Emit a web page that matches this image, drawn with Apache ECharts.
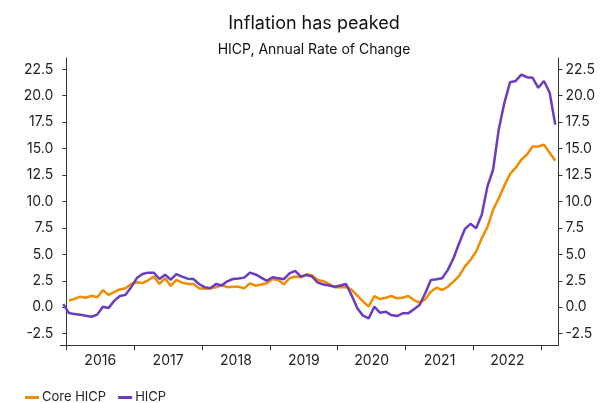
<!DOCTYPE html>
<html>
<head>
<meta charset="utf-8">
<script src="https://cdn.jsdelivr.net/npm/echarts@6/dist/echarts.min.js"></script>
<style>
  html, body { margin: 0; padding: 0; background: #ffffff; }
  #chart { width: 603px; height: 403px; }
</style>
</head>
<body>
<div id="chart"></div>
<script>
// Annual rate of change, %, one value per month
const hicpStart = '2015-12';
const hicp = [
  0.3,
  -0.55, -0.65, -0.72, -0.8, -0.9, -0.7, 0.05, -0.08, 0.6, 1.06, 1.17, 1.9,
  2.76, 3.14, 3.27, 3.27, 2.67, 3.08, 2.6, 3.14, 2.9, 2.7, 2.67, 2.2,
  1.9, 1.8, 2.2, 2.06, 2.45, 2.67, 2.72, 2.8, 3.27, 3.1, 2.8, 2.5,
  2.83, 2.75, 2.65, 3.21, 3.43, 2.9, 3.05, 2.9, 2.33, 2.15, 2.05, 1.94,
  2.05, 2.2, 1.1, -0.1, -0.8, -1.05, 0.05, -0.52, -0.42, -0.74, -0.83, -0.58,
  -0.58, -0.2, 0.21, 1.32, 2.58, 2.65, 2.74, 3.53, 4.63, 6.05, 7.38, 7.89,
  7.48, 8.74, 11.42, 13.0, 16.8, 19.33, 21.28, 21.4, 22.0, 21.75, 21.7, 20.75,
  21.4, 20.3, 17.27
];

const coreStart = '2016-01';
const coreHicp = [
  0.63, 0.79, 1.0, 0.9, 1.08, 0.95, 1.6, 1.17, 1.42, 1.68, 1.8, 2.2,
  2.36, 2.28, 2.55, 2.9, 2.2, 2.74, 2.01, 2.58, 2.33, 2.2, 2.2, 1.8,
  1.75, 1.8, 1.88, 2.1, 1.9, 1.94, 1.94, 1.78, 2.26, 2.04, 2.15, 2.26,
  2.67, 2.58, 2.17, 2.74, 2.9, 2.83, 3.12, 3.0, 2.58, 2.45, 2.2, 1.9,
  1.88, 1.92, 1.65, 1.1, 0.55, 0.05, 1.06, 0.78, 0.9, 1.06, 0.84, 0.9,
  1.06, 0.68, 0.43, 0.75, 1.47, 1.85, 1.63, 1.94, 2.42, 2.96, 3.84, 4.47,
  5.26, 6.53, 7.57, 9.21, 10.3, 11.5, 12.6, 13.2, 13.95, 14.45, 15.2, 15.2,
  15.37, 14.6, 13.85
];

const years = ['2016', '2017', '2018', '2019', '2020', '2021', '2022'];
const yTicks = [-2.5, 0, 2.5, 5, 7.5, 10, 12.5, 15, 17.5, 20, 22.5];

// x is measured in months from the start of the first year; each observation sits mid-month
const baseYear = Number(years[0]);
function monthPos(key, offset) {
  const [y, m] = key.split('-').map(Number);
  return (y - baseYear) * 12 + (m - 1) + offset + 0.47;
}
function toPoints(startKey, values) {
  return values.map((v, i) => [monthPos(startKey, i), v]);
}

const yearTicks = years.map((_, i) => i * 12).concat([years.length * 12]);
const yearLabelPos = years.map((_, i) => i * 12 + 6);

const FONT = 'Inter';
const AXIS_COLOR = '#333333';

const chart = echarts.init(document.getElementById('chart'), null, { renderer: 'canvas' });

const yAxisCommon = {
  type: 'value',
  min: -3.6,
  max: 23.57,
  splitLine: { show: false },
  axisLine: { show: true, lineStyle: { color: AXIS_COLOR, width: 1 } },
  axisTick: { show: true, length: 4, customValues: yTicks, lineStyle: { color: AXIS_COLOR } },
  axisLabel: {
    customValues: yTicks,
    formatter: v => v.toFixed(1),
    color: '#222222',
    fontFamily: FONT,
    fontSize: 14,
    margin: 7
  }
};

chart.setOption({
  animation: false,
  backgroundColor: '#ffffff',
  title: [
    {
      text: 'Inflation has peaked',
      left: 309, top: 10, textAlign: 'center',
      textStyle: { fontFamily: FONT, fontSize: 18, fontWeight: 'normal', color: '#111111' }
    },
    {
      text: 'HICP, Annual Rate of Change',
      left: 309, top: 38, textAlign: 'center',
      textStyle: { fontFamily: FONT, fontSize: 14, fontWeight: 'normal', color: '#111111' }
    }
  ],
  legend: {
    left: 20, top: 386,
    icon: 'rect', itemWidth: 14, itemHeight: 3, itemGap: 12,
    textStyle: { fontFamily: FONT, fontSize: 13, color: '#222222', padding: [0, 0, 0, -2] },
    data: ['Core HICP', 'HICP']
  },
  grid: { left: 60.3, right: 44.5, top: 58, bottom: 57.7, containLabel: false },
  xAxis: {
    type: 'value',
    min: -1.06,
    max: 87.04,
    splitLine: { show: false },
    axisLine: { show: true, onZero: false, lineStyle: { color: AXIS_COLOR, width: 1 } },
    axisTick: { show: true, length: 5, customValues: yearTicks, lineStyle: { color: AXIS_COLOR } },
    axisLabel: {
      customValues: yearLabelPos,
      formatter: v => years[Math.round((v - 6) / 12)],
      color: '#222222',
      fontFamily: FONT,
      fontSize: 14,
      margin: 8
    }
  },
  yAxis: [
    Object.assign({}, yAxisCommon, { position: 'left' }),
    Object.assign({}, yAxisCommon, { position: 'right' })
  ],
  series: [
    {
      name: 'Core HICP', type: 'line', yAxisIndex: 0,
      data: toPoints(coreStart, coreHicp),
      showSymbol: false, symbol: 'none',
      lineStyle: { color: '#F08C00', width: 2.5 },
      itemStyle: { color: '#F08C00' }
    },
    {
      name: 'HICP', type: 'line', yAxisIndex: 0,
      data: toPoints(hicpStart, hicp),
      showSymbol: false, symbol: 'none',
      lineStyle: { color: '#6A3DC0', width: 2.5 },
      itemStyle: { color: '#6A3DC0' }
    }
  ]
});
</script>
</body>
</html>
